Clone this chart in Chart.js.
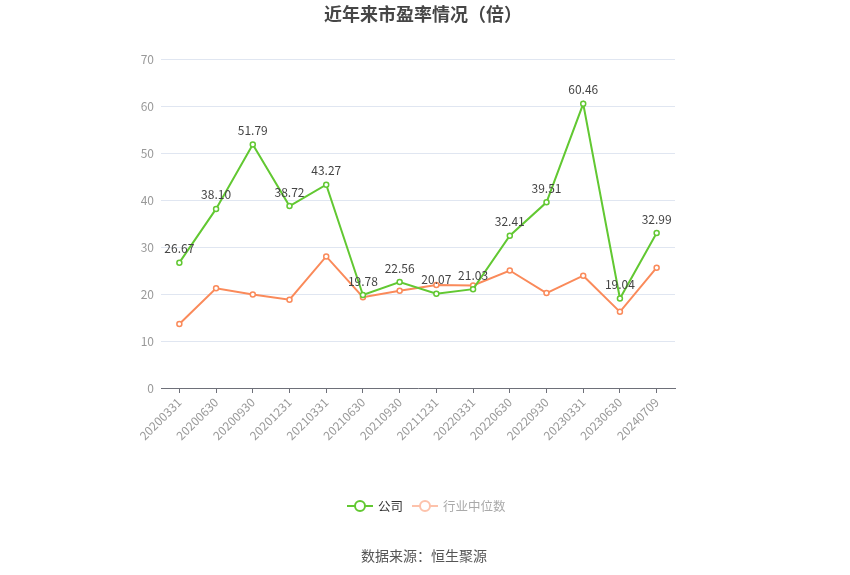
<!DOCTYPE html>
<html>
<head>
<meta charset="utf-8">
<script src="https://cdn.jsdelivr.net/npm/chart.js@4.4.1/dist/chart.umd.min.js"></script>
<style>
html,body{margin:0;padding:0;background:#fff;}
#wrap{position:relative;width:850px;height:575px;}
</style>
</head>
<body>
<div id="wrap"><canvas id="c" width="850" height="575"></canvas></div>
<script>
const categories = ["20200331","20200630","20200930","20201231","20210331","20210630","20210930","20211231","20220331","20220630","20220930","20230331","20230630","20240709"];
const companyPE = [26.67,38.10,51.79,38.72,43.27,19.78,22.56,20.07,21.03,32.41,39.51,60.46,19.04,32.99];
const industryMedianPE = [13.6,21.2,19.9,18.8,28.0,19.3,20.7,21.9,21.8,25.0,20.2,23.9,16.2,25.6];
const seriesNames = ["公司","行业中位数"];
const yTicks = [0,10,20,30,40,50,60,70];
const titleText = "近年来市盈率情况（倍）";
const sourceText = "数据来源：恒生聚源";

const GREEN = "#62c832";
const ORANGE = "#fa8a5a";
const FONT = "'Noto Sans CJK SC','Noto Sans',sans-serif";

const extras = {
  id: "extras",
  afterDatasetsDraw(chart) {
    const ctx = chart.ctx;
    const meta = chart.getDatasetMeta(0);
    ctx.save();
    ctx.font = "12px " + FONT;
    ctx.fillStyle = "#444";
    ctx.textAlign = "center";
    ctx.textBaseline = "bottom";
    meta.data.forEach((pt, i) => {
      ctx.fillText(companyPE[i].toFixed(2), pt.x, pt.y - 8);
    });
    ctx.restore();
  },
  afterDraw(chart) {
    const ctx = chart.ctx;
    ctx.save();
    // title
    ctx.font = "bold 18px " + FONT;
    ctx.fillStyle = "#464646";
    ctx.textAlign = "center";
    ctx.textBaseline = "middle";
    ctx.fillText(titleText, 423, 14);
    // legend
    const ly = 506;
    const items = [
      {x: 347, color: GREEN, text: seriesNames[0], textColor: "#333"},
      {x: 412, color: "#fdc2ab", text: seriesNames[1], textColor: "#aaa"}
    ];
    items.forEach(it => {
      ctx.strokeStyle = it.color;
      ctx.lineWidth = 2;
      ctx.beginPath();
      ctx.moveTo(it.x, ly); ctx.lineTo(it.x + 26, ly); ctx.stroke();
      ctx.beginPath();
      ctx.arc(it.x + 13, ly, 5, 0, Math.PI * 2);
      ctx.fillStyle = "#fff"; ctx.fill(); ctx.stroke();
      ctx.font = "12.5px " + FONT;
      ctx.fillStyle = it.textColor;
      ctx.textAlign = "left";
      ctx.textBaseline = "middle";
      ctx.fillText(it.text, it.x + 31, ly);
    });
    // source
    ctx.font = "14px " + FONT;
    ctx.fillStyle = "#555";
    ctx.textAlign = "center";
    ctx.textBaseline = "middle";
    ctx.fillText(sourceText, 424, 556);
    ctx.restore();
  }
};

new Chart(document.getElementById("c"), {
  type: "line",
  data: {
    labels: categories,
    datasets: [
      {
        label: seriesNames[0], data: companyPE,
        borderColor: GREEN, backgroundColor: "#fff",
        borderWidth: 2, pointRadius: 2.5, pointBorderWidth: 1.5,
        pointBackgroundColor: "#fff", pointBorderColor: GREEN, tension: 0, order: 0
      },
      {
        label: seriesNames[1], data: industryMedianPE,
        borderColor: ORANGE, backgroundColor: "#fff",
        borderWidth: 2, pointRadius: 2.5, pointBorderWidth: 1.5,
        pointBackgroundColor: "#fff", pointBorderColor: ORANGE, tension: 0, order: 1
      }
    ]
  },
  options: {
    responsive: false,
    animation: false,
    devicePixelRatio: 1,
    layout: { padding: { top: 59, right: 175, left: 0, bottom: 0 } },
    plugins: { legend: { display: false }, title: { display: false }, tooltip: { enabled: false } },
    scales: {
      x: {
        offset: true,
        afterFit(s) { s.height = 187; },
        grid: { display: true, drawOnChartArea: false, drawTicks: true, tickLength: 5, color: "#6E7079", offset: false },
        border: { display: true, color: "#6E7079", width: 1 },
        ticks: { color: "#999", font: { size: 12, family: FONT }, minRotation: 45, maxRotation: 45, autoSkip: false, padding: 2 }
      },
      y: {
        min: 0, max: 70,
        afterFit(s) { s.width = 161; },
        afterBuildTicks(s) { s.ticks = yTicks.map(v => ({ value: v })); },
        grid: { color: "#E0E6F1", drawTicks: false },
        border: { display: false },
        ticks: { color: "#999", font: { size: 12, family: FONT }, padding: 7 }
      }
    }
  },
  plugins: [extras]
});
</script>
</body>
</html>
